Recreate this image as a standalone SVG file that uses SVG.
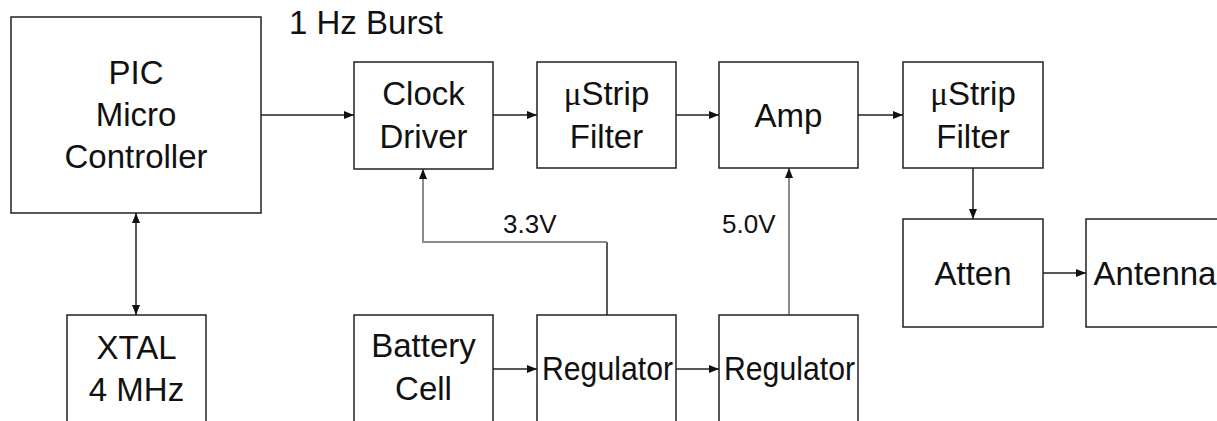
<svg xmlns="http://www.w3.org/2000/svg" width="1217" height="421" viewBox="0 0 1217 421">
<style>
.box{fill:#fff;stroke:#222;stroke-width:1.5}
.t{font-family:"Liberation Sans",Arial,sans-serif;font-size:33px;fill:#111;text-anchor:middle}
.lbl{font-family:"Liberation Sans",Arial,sans-serif;font-size:26px;fill:#111}
.mu{font-family:"Liberation Serif","Times New Roman",serif}
.c{fill:none;stroke:#222;stroke-width:1.5}
.g{fill:none;stroke:#8c8c8c;stroke-width:2}
</style>
<defs>
<marker id="ah" markerUnits="userSpaceOnUse" markerWidth="10" markerHeight="8" refX="10" refY="4" orient="auto">
<path d="M0,0 L10,4 L0,8 z" fill="#111"/>
</marker>
<marker id="as" markerUnits="userSpaceOnUse" markerWidth="10" markerHeight="8" refX="0" refY="4" orient="auto">
<path d="M10,0 L0,4 L10,8 z" fill="#111"/>
</marker>
</defs>
<rect width="1217" height="421" fill="#fff"/>
<g id="connectors">
<path class="c" d="M261,115 H354" marker-end="url(#ah)"/>
<path class="c" d="M493,115 H537" marker-end="url(#ah)"/>
<path class="c" d="M676,115 H719" marker-end="url(#ah)"/>
<path class="c" d="M858,115 H903" marker-end="url(#ah)"/>
<path class="c" d="M136,213 V315" marker-start="url(#as)" marker-end="url(#ah)"/>
<path class="c" d="M607,315 V242"/>
<path class="g" d="M607,242 H423 V169" marker-end="url(#ah)"/>
<path class="g" d="M789,315 V168" marker-end="url(#ah)"/>
<path class="c" d="M493,369 H537" marker-end="url(#ah)"/>
<path class="c" d="M676,369 H719" marker-end="url(#ah)"/>
<path class="c" d="M973,168 V219" marker-end="url(#ah)"/>
<path class="c" d="M1043,273 H1086" marker-end="url(#ah)"/>
<text class="lbl" x="289" y="34" style="font-size:33px">1 Hz Burst</text>
<text class="lbl" x="503" y="233">3.3V</text>
<text class="lbl" x="722" y="233">5.0V</text>
</g>
<g id="pic">
<rect class="box" x="11" y="17" width="250" height="196"/>
<text class="t" x="136" y="84">PIC</text>
<text class="t" x="136" y="126">Micro</text>
<text class="t" x="136" y="168">Controller</text>
</g>
<g id="clock">
<rect class="box" x="354" y="62" width="139" height="107"/>
<text class="t" x="423.5" y="105">Clock</text>
<text class="t" x="423.5" y="148">Driver</text>
</g>
<g id="filter1">
<rect class="box" x="537" y="62" width="139" height="106"/>
<text class="t" x="606.5" y="105"><tspan class="mu">μ</tspan>Strip</text>
<text class="t" x="606.5" y="148">Filter</text>
</g>
<g id="amp">
<rect class="box" x="719" y="62" width="139" height="106"/>
<text class="t" x="788.5" y="126.5">Amp</text>
</g>
<g id="filter2">
<rect class="box" x="903" y="62" width="140" height="106"/>
<text class="t" x="973" y="105"><tspan class="mu">μ</tspan>Strip</text>
<text class="t" x="973" y="148">Filter</text>
</g>
<g id="atten">
<rect class="box" x="903" y="219" width="140" height="108"/>
<text class="t" x="973" y="285">Atten</text>
</g>
<g id="antenna">
<rect class="box" x="1086" y="219" width="150" height="108"/>
<text class="t" x="1155" y="285">Antenna</text>
</g>
<g id="xtal">
<rect class="box" x="67" y="315" width="139" height="130"/>
<text class="t" x="136.5" y="359">XTAL</text>
<text class="t" x="136.5" y="401">4 MHz</text>
</g>
<g id="battery">
<rect class="box" x="354" y="315" width="139" height="130"/>
<text class="t" x="423.5" y="357">Battery</text>
<text class="t" x="423.5" y="400">Cell</text>
</g>
<g id="regulator1">
<rect class="box" x="537" y="315" width="139" height="130"/>
<text class="t" x="607.5" y="380" textLength="131" lengthAdjust="spacingAndGlyphs">Regulator</text>
</g>
<g id="regulator2">
<rect class="box" x="719" y="315" width="139" height="130"/>
<text class="t" x="789.5" y="380" textLength="131" lengthAdjust="spacingAndGlyphs">Regulator</text>
</g>
</svg>
